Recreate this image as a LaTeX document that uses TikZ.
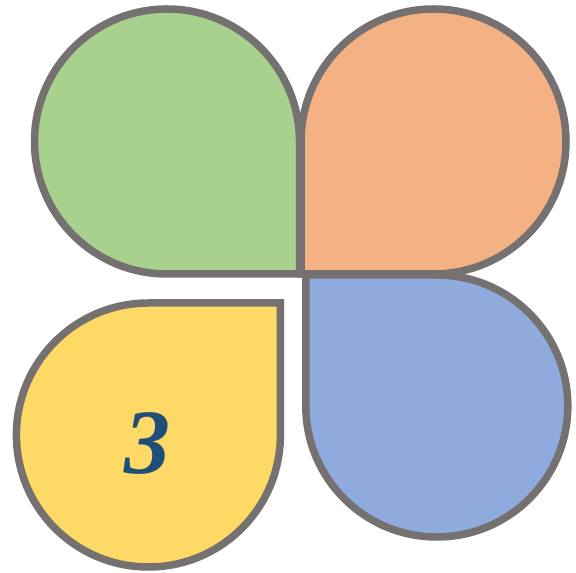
\documentclass[tikz,border=0pt]{standalone}
\usepackage{fontspec}
\setmainfont{Liberation Serif}
\definecolor{rimgray}{HTML}{767171}
\definecolor{leafgreen}{HTML}{A9D18E}
\definecolor{leaforange}{HTML}{F4B183}
\definecolor{leafblue}{HTML}{8FAADC}
\definecolor{leafyellow}{HTML}{FFD966}
\definecolor{numblue}{HTML}{1F4E79}

\begin{document}
\begin{tikzpicture}[x=1pt,y=1pt,
  petal/.style={draw=rimgray,line width=7.5pt,line join=miter},
  num/.style={text=numblue,font=\fontsize{92}{92}\selectfont\bfseries\itshape,inner sep=0pt}
]
  \useasboundingbox (0,0) rectangle (576,573);
  % four drops, sharp corner towards the middle
  \draw[petal,fill=leafgreen,shift={(167,431.5)}]
    (132.5,-132.5) -- (0,-132.5) arc[start angle=-90,end angle=-360,radius=132.5] -- cycle;
  \draw[petal,fill=leaforange,shift={(433.5,431.5)},rotate=-90]
    (132.5,-132.5) -- (0,-132.5) arc[start angle=-90,end angle=-360,radius=132.5] -- cycle;
  \draw[petal,fill=leafblue,shift={(436.8,167)},rotate=180]
    (131,-131) -- (0,-131) arc[start angle=-90,end angle=-360,radius=131] -- cycle;
  \draw[petal,fill=leafyellow,shift={(148.4,138)},rotate=90]
    (132,-132) -- (0,-132) arc[start angle=-90,end angle=-360,radius=132] -- cycle;

  \node[num] (three) at (147,130) {3};
\end{tikzpicture}
\end{document}
